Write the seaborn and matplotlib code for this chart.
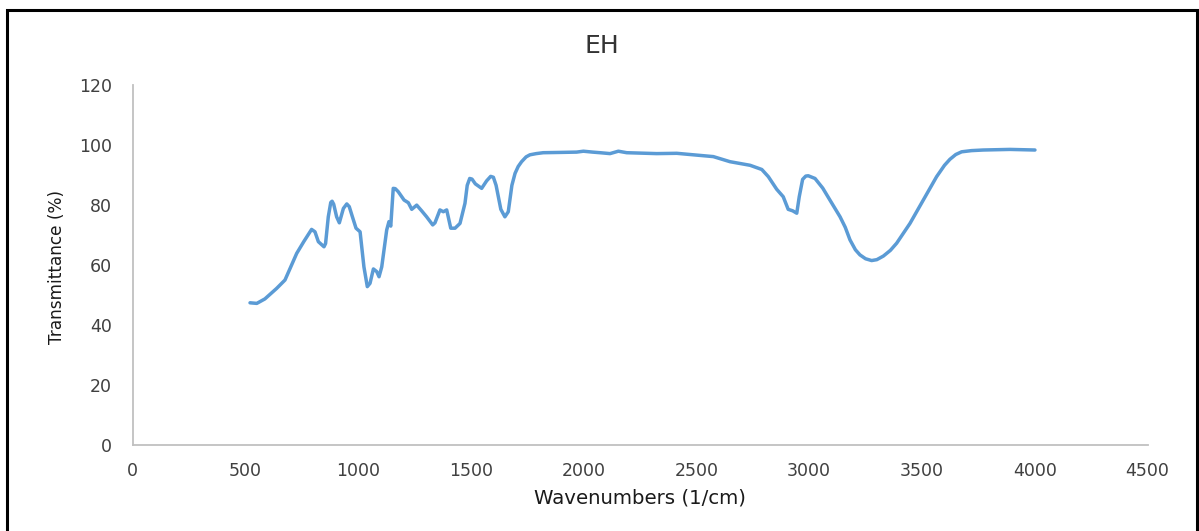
import numpy as np
import pandas as pd
import matplotlib
matplotlib.use("Agg")
import matplotlib.pyplot as plt
from matplotlib.patches import Rectangle
import seaborn as sns

# FTIR spectrum of sample EH
wavenumber = [521, 551, 587, 639, 676, 700, 728, 760, 794, 809, 824, 849, 856, 868, 879,
              885, 892, 905, 917, 935, 950, 961, 975, 991, 1009, 1026, 1041, 1053, 1068,
              1083, 1093, 1105, 1127, 1137, 1145, 1156, 1165, 1178, 1204, 1223, 1238,
              1260, 1282, 1304, 1331, 1341, 1363, 1378, 1393, 1411, 1430, 1452, 1474,
              1484, 1495, 1505, 1520, 1548, 1570, 1588, 1600, 1612, 1633, 1651, 1666,
              1682, 1696, 1710, 1725, 1745, 1762, 1790, 1821, 1900, 1969, 1999, 2040,
              2073, 2117, 2154, 2191, 2324, 2413, 2501, 2575, 2649, 2738, 2790, 2819,
              2856, 2885, 2907, 2927, 2945, 2956, 2971, 2985, 2996, 3026, 3060, 3092,
              3137, 3160, 3181, 3205, 3225, 3250, 3277, 3300, 3329, 3360, 3388, 3447,
              3506, 3565, 3600, 3624, 3650, 3676, 3720, 3772, 3890, 4001]
transmittance = [47.3, 47.1, 48.6, 52.1, 54.9, 59.0, 63.8, 67.8, 71.8, 71.0, 67.7, 66.0,
                 67.1, 76.0, 80.8, 81.2, 80.2, 76.0, 74.0, 78.8, 80.3, 79.4, 76.0, 72.2,
                 71.0, 59.3, 52.7, 53.8, 58.6, 57.7, 56.0, 59.3, 71.6, 74.4, 72.9, 85.5,
                 85.4, 84.4, 81.6, 80.7, 78.5, 79.9, 78.0, 76.0, 73.3, 74.0, 78.3, 77.7,
                 78.3, 72.2, 72.2, 73.8, 80.5, 86.5, 88.8, 88.6, 87.0, 85.5, 88.0, 89.5,
                 89.2, 86.5, 78.5, 76.0, 77.7, 86.5, 90.5, 92.8, 94.4, 96.0, 96.7, 97.1,
                 97.4, 97.5, 97.6, 97.9, 97.6, 97.4, 97.1, 97.9, 97.4, 97.1, 97.2, 96.6,
                 96.1, 94.4, 93.2, 91.8, 89.4, 85.2, 82.7, 78.5, 78.0, 77.2, 82.7, 88.5,
                 89.6, 89.7, 88.8, 85.6, 81.6, 76.0, 72.5, 68.3, 65.0, 63.3, 62.0, 61.4,
                 61.7, 62.9, 64.8, 67.2, 73.8, 81.6, 89.4, 93.2, 95.2, 96.8, 97.7, 98.1,
                 98.3, 98.5, 98.3]

x_ticks = [0, 500, 1000, 1500, 2000, 2500, 3000, 3500, 4000, 4500]
y_ticks = [0, 20, 40, 60, 80, 100, 120]

sns.set_style("white")
plt.rcParams["font.family"] = ["DejaVu Sans"]

df = pd.DataFrame({"Wavenumber": wavenumber, "Transmittance": transmittance})

W, H = 1199, 531
fig = plt.figure(figsize=(W / 100, H / 100), dpi=100)
ax = fig.add_axes([132.5 / W, (H - 444.5) / H, 1015 / W, 359.5 / H])

sns.lineplot(data=df, x="Wavenumber", y="Transmittance", ax=ax,
             color="#5b9bd5", linewidth=2.5, sort=False)

ax.set_xlim(0, 4500)
ax.set_ylim(0, 120)
ax.set_xticks(x_ticks)
ax.set_yticks(y_ticks)
ax.tick_params(axis="both", length=0, labelsize=12.5, colors="#404040")
ax.tick_params(axis="y", pad=15)
ax.tick_params(axis="x", pad=12.5)

for side in ("top", "right"):
    ax.spines[side].set_visible(False)
for side in ("left", "bottom"):
    ax.spines[side].set_color("#c0c0c0")
    ax.spines[side].set_linewidth(1.3)

ax.set_xlabel("")
ax.set_ylabel("")

# chart title and axis titles
fig.text(602 / W, (H - 53) / H, "EH", fontsize=18, color="#333333",
         ha="center", va="baseline")
fig.text(640 / W, (H - 503) / H, "Wavenumbers (1/cm)", fontsize=14.2,
         color="#1a1a1a", ha="center", va="baseline")
fig.text(57 / W, (H - 267) / H, "Transmittance (%)", fontsize=12.2,
         color="#1a1a1a", ha="center", va="center", rotation=90)

# outer frame around the chart
fig.patches.append(Rectangle((6.5 / W, -0.05), (1196.5 - 6.5) / W, (H - 9.5) / H + 0.05,
                             transform=fig.transFigure, fill=False,
                             edgecolor="black", linewidth=2.2, zorder=10))

fig.savefig("out.png", dpi=100)
